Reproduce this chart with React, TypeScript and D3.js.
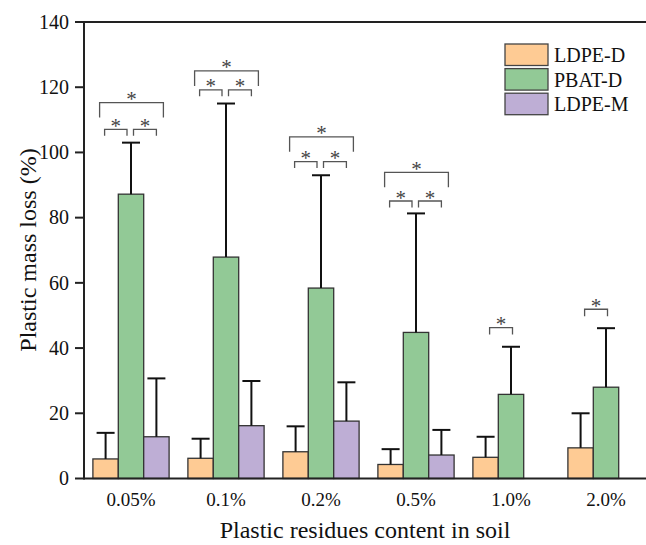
import React from "react";
import * as d3 from "d3";

const categories = ["0.05%", "0.1%", "0.2%", "0.5%", "1.0%", "2.0%"];
const seriesNames = ["LDPE-D", "PBAT-D", "LDPE-M"];
const seriesColors = ["#FECB94", "#92C996", "#BEAED5"];

const ldpeD = [6.0, 6.2, 8.2, 4.3, 6.5, 9.4];
const ldpeDErr = [8.0, 6.0, 7.8, 4.7, 6.3, 10.6];
const pbatD = [87.2, 67.9, 58.4, 44.8, 25.8, 28.0];
const pbatDErr = [15.8, 47.1, 34.6, 36.5, 14.6, 18.1];
const ldpeM: (number | null)[] = [12.8, 16.2, 17.6, 7.2, null, null];
const ldpeMErr: (number | null)[] = [17.9, 13.7, 11.9, 7.7, null, null];

const yTicks = [0, 20, 40, 60, 80, 100, 120, 140];

// [group, fromSeries, toSeries, y value]
const brackets: [number, number, number, number][] = [
  [0, 0, 2, 115.3], [0, 0, 1, 107.1], [0, 1, 2, 107.1],
  [1, 0, 2, 125.0], [1, 0, 1, 119.2], [1, 1, 2, 119.2],
  [2, 0, 2, 104.8], [2, 0, 1, 97.2], [2, 1, 2, 97.2],
  [3, 0, 2, 93.9], [3, 0, 1, 85.1], [3, 1, 2, 85.1],
  [4, 0, 1, 46.3],
  [5, 0, 1, 51.9],
];

const W = 646;
const H = 545;
const FONT = "'Liberation Serif', 'Times New Roman', serif";

export default function App() {
  const left = 84;
  const step = 95;
  const x0 = d3
    .scaleBand<string>()
    .domain(categories)
    .range([left - 0.5, left - 0.5 + step * categories.length]);
  const xs = d3.scaleBand<string>().domain(seriesNames).range([-38.1, 38.1]);
  const y = d3.scaleLinear().domain([0, 140]).range([478.5, 22]);

  const values = [ldpeD, pbatD, ldpeM];
  const errs = [ldpeDErr, pbatDErr, ldpeMErr];

  const gc = (i: number) => (x0(categories[i]) as number) + x0.bandwidth() / 2;
  const sc = (i: number, s: number) =>
    gc(i) + (xs(seriesNames[s]) as number) + xs.bandwidth() / 2;

  const bars: React.ReactNode[] = [];
  const errBars: React.ReactNode[] = [];
  categories.forEach((c, i) => {
    values.forEach((arr, s) => {
      const v = arr[i];
      if (v == null) return;
      const bx = gc(i) + (xs(seriesNames[s]) as number);
      bars.push(
        <rect
          key={`b${i}-${s}`}
          x={bx}
          y={y(v)}
          width={xs.bandwidth()}
          height={y(0) - y(v)}
          fill={seriesColors[s]}
          stroke="#333"
          strokeWidth={1.3}
        />
      );
      const e = errs[s][i] as number;
      const cx = sc(i, s);
      errBars.push(
        <g key={`e${i}-${s}`} stroke="#111" strokeWidth={2}>
          <line x1={cx} x2={cx} y1={y(v)} y2={y(v + e)} />
          <line x1={cx - 9} x2={cx + 9} y1={y(v + e)} y2={y(v + e)} />
        </g>
      );
    });
  });

  const sig = brackets.map(([g, a, b, v], k) => {
    let x1: number, x2: number, leg: number;
    const nSeries = ldpeM[g] == null ? 2 : 3;
    if (b - a === 2) {
      x1 = sc(g, a) - 6;
      x2 = sc(g, b) + 7;
      leg = 15;
    } else if (nSeries === 2) {
      x1 = sc(g, a) + 4;
      x2 = sc(g, b) + 1.5;
      leg = 7;
    } else if (a === 0) {
      x1 = sc(g, a) - 1;
      x2 = sc(g, b) - 4;
      leg = 6.5;
    } else {
      x1 = sc(g, a) + 2.5;
      x2 = sc(g, b);
      leg = 6.5;
    }
    const yy = y(v);
    return (
      <g key={`s${k}`}>
        <path
          d={`M${x1},${yy + leg}V${yy}H${x2}V${yy + leg}`}
          fill="none"
          stroke="#555"
          strokeWidth={1.3}
        />
        <text
          x={(x1 + x2) / 2}
          y={yy + 3.5}
          textAnchor="middle"
          fontSize={21}
          fill="#444"
          fontFamily={FONT}
        >
          *
        </text>
      </g>
    );
  });

  return (
    <svg
      width={W}
      height={H}
      style={{ position: "absolute", left: 0, top: 0, background: "#fff" }}
      fontFamily={FONT}
    >
      <rect x={0} y={0} width={W} height={H} fill="#fff" />
      {bars}
      {errBars}
      {sig}
      {/* frame */}
      <line x1={left} x2={W} y1={y(0)} y2={y(0)} stroke="#222" strokeWidth={2} />
      <line x1={left} x2={W} y1={y(140)} y2={y(140)} stroke="#222" strokeWidth={2} />
      <line x1={left} x2={left} y1={y(140) - 1} y2={y(0) + 1} stroke="#222" strokeWidth={2} />
      {yTicks.map((t) => (
        <g key={`t${t}`}>
          <line x1={left - 9} x2={left} y1={y(t)} y2={y(t)} stroke="#222" strokeWidth={2} />
          <text
            x={left - 15}
            y={y(t)}
            dy="0.34em"
            textAnchor="end"
            fontSize={20}
            fill="#111"
          >
            {t}
          </text>
        </g>
      ))}
      {categories.map((c, i) => (
        <text key={`c${i}`} x={gc(i)} y={506} textAnchor="middle" fontSize={19} fill="#111">
          {c}
        </text>
      ))}
      <text x={(left + W) / 2 + 0} y={538} textAnchor="middle" fontSize={24} fill="#111">
        Plastic residues content in soil
      </text>
      <text
        transform={`translate(36,250) rotate(-90)`}
        textAnchor="middle"
        fontSize={24}
        fill="#111"
      >
        Plastic mass loss (%)
      </text>
      {/* legend */}
      {seriesNames.map((n, s) => (
        <g key={`l${s}`}>
          <rect
            x={505}
            y={44 + s * 24.6}
            width={43}
            height={21.5}
            fill={seriesColors[s]}
            stroke="#444"
            strokeWidth={1.3}
          />
          <text x={554} y={44 + s * 24.6 + 18} fontSize={20} fill="#111">
            {n}
          </text>
        </g>
      ))}
    </svg>
  );
}
